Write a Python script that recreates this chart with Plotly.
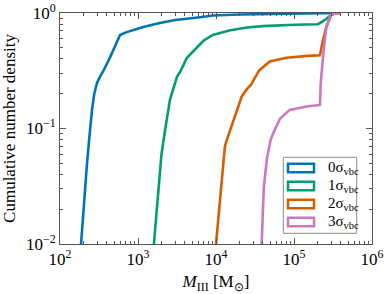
import plotly.graph_objects as go

# 0 sigma_vbc
m0 = [186, 197, 209, 222, 236, 257, 275, 298, 325, 355, 436, 520, 588, 700, 870, 1200, 1910, 3000, 6240, 9100, 20000, 50000, 100000, 200000, 300000, 400000]
y0 = [0.01, 0.018, 0.03, 0.05, 0.079, 0.145, 0.2, 0.248, 0.28, 0.31, 0.41, 0.53, 0.645, 0.68, 0.71, 0.76, 0.82, 0.87, 0.92, 0.95, 0.97, 0.98, 0.99, 0.995, 1.0, 1.0]
# 1 sigma_vbc
m1 = [1600, 1800, 2000, 2240, 2570, 3160, 3470, 4240, 5700, 7000, 9100, 15200, 25000, 40000, 100000, 203000, 250000, 290000, 320000, 400000]
y1 = [0.01, 0.025, 0.06, 0.1, 0.177, 0.28, 0.31, 0.41, 0.5, 0.58, 0.645, 0.71, 0.75, 0.77, 0.79, 0.80, 0.87, 0.95, 1.0, 1.0]
# 2 sigma_vbc
m2 = [10000, 11700, 13000, 13700, 16700, 21400, 25000, 28000, 32000, 36000, 49000, 80000, 150000, 215000, 235000, 260000, 300000, 350000, 400000]
y2 = [0.01, 0.03, 0.07, 0.079, 0.118, 0.19, 0.22, 0.238, 0.28, 0.32, 0.38, 0.41, 0.425, 0.43, 0.58, 0.76, 0.96, 1.0, 1.0]
# 3 sigma_vbc
m3 = [38500, 41000, 45000, 48000, 50000, 54000, 66500, 88000, 145000, 215000, 220000, 240000, 260000, 295000, 350000, 400000]
y3 = [0.01, 0.031, 0.055, 0.069, 0.079, 0.091, 0.122, 0.145, 0.155, 0.16, 0.246, 0.48, 0.76, 0.96, 1.0, 1.0]

labels = ["0σ<sub>vbc</sub>", "1σ<sub>vbc</sub>", "2σ<sub>vbc</sub>", "3σ<sub>vbc</sub>"]
colors = ["#0173B2", "#029E73", "#D55E00", "#CC78BC"]

x_tickvals = [1e2, 1e3, 1e4, 1e5, 1e6]
x_ticktext = ["10<sup>2</sup>", "10<sup>3</sup>", "10<sup>4</sup>", "10<sup>5</sup>", "10<sup>6</sup>"]
y_tickvals = [1e-2, 1e-1, 1e0]
y_ticktext = ["10<sup>−2</sup>", "10<sup>−1</sup>", "10<sup>0</sup>"]

x_minor = [k * 10 ** e for e in range(2, 6) for k in range(2, 10)]
y_minor = [k * 10 ** e for e in range(-2, 0) for k in range(2, 10)]

fig = go.Figure()
for m, y, c in zip([m0, m1, m2, m3], [y0, y1, y2, y3], colors):
    fig.add_trace(go.Scatter(x=m, y=y, mode="lines", line=dict(color=c, width=2.6),
                             showlegend=False, hoverinfo="skip"))

font = "Liberation Serif, Times New Roman, serif"
axcol = "#555555"


def ax(tv, tt, mv):
    return dict(type="log", showline=True, linecolor=axcol, linewidth=1, mirror="ticks",
                ticks="inside", ticklen=6, tickcolor=axcol, showgrid=False, zeroline=False,
                tickmode="array", tickvals=tv, ticktext=tt, automargin=False,
                ticklabeloverflow="allow",
                tickfont=dict(size=17, color="black"),
                minor=dict(ticks="inside", ticklen=3, tickcolor=axcol, showgrid=False,
                           tickmode="array", tickvals=mv))


# plot area in page pixels
L, R, T, B = 60, 372, 13, 244
W, H = R - L, B - T


def px(xp):
    return (xp - L) / W


def py(yp):
    return (B - yp) / H


shapes = [dict(type="rect", xref="paper", yref="paper", x0=px(283.3), x1=px(356.7),
               y0=py(233.3), y1=py(157.3), line=dict(color="#888888", width=1),
               fillcolor="white", layer="above")]
annotations = []
for i, (lab, c) in enumerate(zip(labels, colors)):
    yc = 168 + 18 * i
    shapes.append(dict(type="rect", xref="paper", yref="paper", x0=px(288), x1=px(314),
                       y0=py(yc + 4.3), y1=py(yc - 4.3), line=dict(color=c, width=2.5),
                       fillcolor="rgba(0,0,0,0)", layer="above"))
    annotations.append(dict(xref="paper", yref="paper", x=px(326), y=py(yc), text=lab,
                            showarrow=False, xanchor="left", yanchor="middle",
                            font=dict(size=15, color="black", family=font)))

fig.update_layout(
    width=389, height=294,
    margin=dict(l=L, r=389 - R, t=T, b=294 - B),
    paper_bgcolor="white", plot_bgcolor="white",
    font=dict(family=font, size=17, color="black"),
    xaxis=dict(range=[2, 6],
               title=dict(text="<i>M</i><sub>III</sub> [M<sub>⊙</sub>]", font=dict(size=17), standoff=8),
               **ax(x_tickvals, x_ticktext, x_minor)),
    yaxis=dict(range=[-2, 0],
               title=dict(text="Cumulative number density", font=dict(size=17), standoff=6),
               **ax(y_tickvals, y_ticktext, y_minor)),
    shapes=shapes, annotations=annotations,
    showlegend=False,
)

fig.write_html("out.html", config={"displayModeBar": False},
               post_script="document.body.style.margin='0px';")
